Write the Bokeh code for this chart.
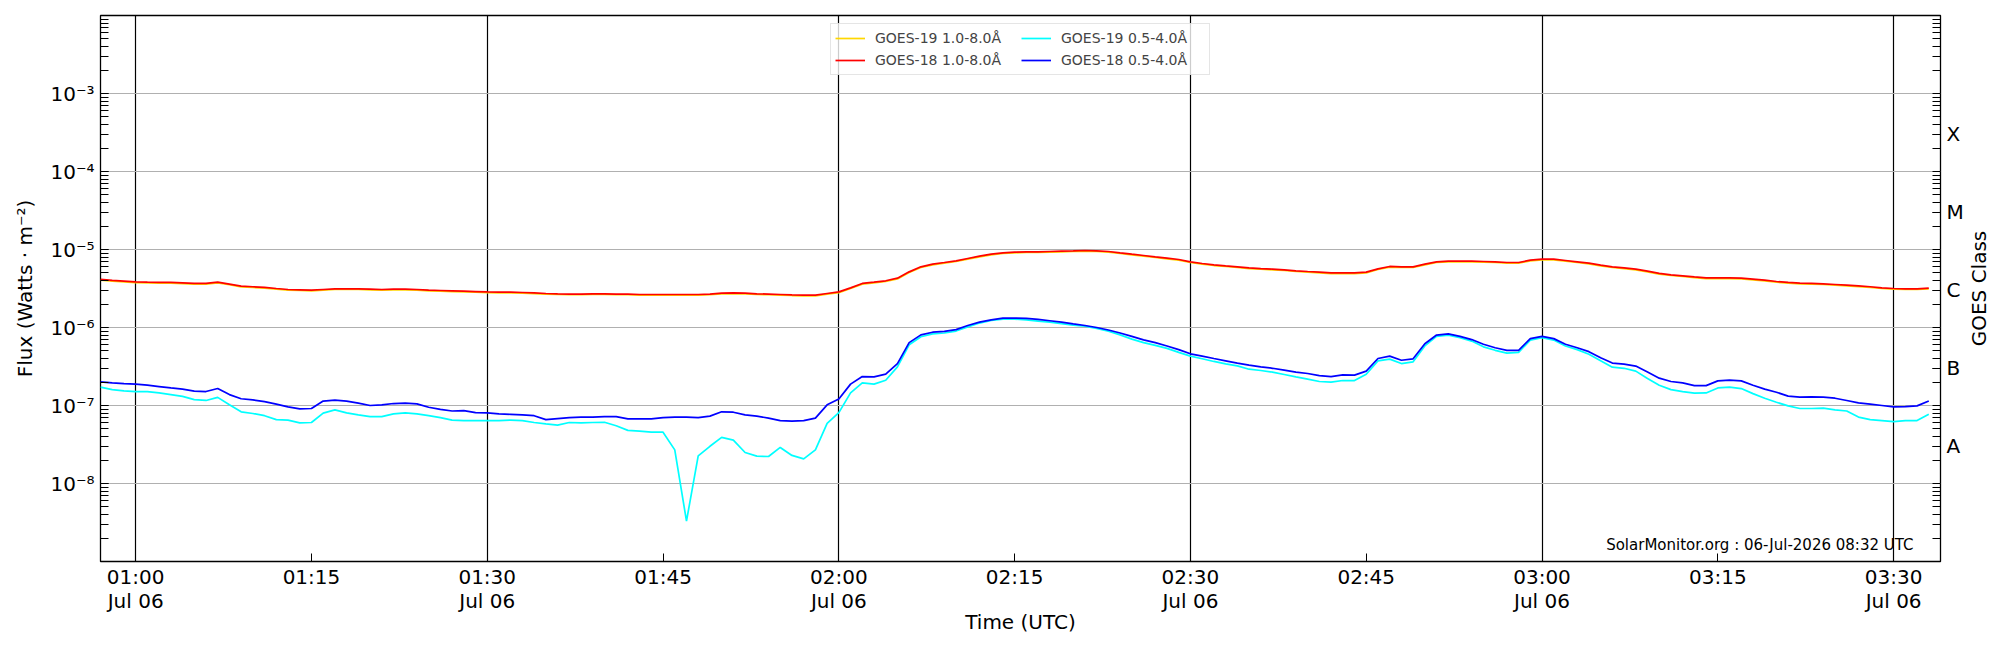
import math
import numpy as np
import pandas as pd
from bokeh.plotting import figure
from bokeh.layouts import row
from bokeh.models import (FixedTicker, LogAxis, Range1d, Legend, LegendItem,
                          Label, CustomJSTickFormatter)
from bokeh.embed import file_html
from bokeh.resources import INLINE

# ---------------- data (1-minute cadence, starting 00:57 UTC) ----------------
DATE = "2026-07-06"
START = "00:57"
X_END = "03:34"

# GOES-19 1.0-8.0 A, in units of 1e-6 W m^-2
goes19_long = [
    4.05, 3.93, 3.85, 3.77, 3.73, 3.70, 3.70, 3.66, 3.60, 3.60, 3.73, 3.53, 3.32,
    3.26, 3.19, 3.10, 3.01, 2.98, 2.95, 3.01, 3.07, 3.07, 3.07,
    3.04, 3.01, 3.04, 3.04, 3.01, 2.95, 2.92, 2.89, 2.86, 2.83,
    2.80, 2.78, 2.78, 2.75, 2.72, 2.68, 2.65, 2.63, 2.63, 2.65,
    2.65, 2.63, 2.63, 2.60, 2.60, 2.60, 2.60, 2.60, 2.60, 2.63,
    2.70, 2.72, 2.70, 2.65, 2.63, 2.60, 2.57, 2.55, 2.55, 2.68,
    2.80, 3.16, 3.60, 3.73, 3.89, 4.20, 5.07, 5.88, 6.36, 6.67,
    7.02, 7.52, 8.05, 8.54, 8.88, 9.06, 9.15, 9.15, 9.24, 9.33,
    9.42, 9.52, 9.42, 9.24, 8.88, 8.54, 8.21, 7.89, 7.59, 7.29,
    6.81, 6.49, 6.23, 6.05, 5.88, 5.70, 5.59, 5.49, 5.38, 5.22,
    5.12, 5.02, 4.92, 4.92, 4.92, 5.02, 5.54, 5.94, 5.88, 5.88,
    6.36, 6.81, 6.95, 6.95, 6.95, 6.88, 6.81, 6.67, 6.67, 7.15,
    7.37, 7.37, 7.09, 6.81, 6.55, 6.17, 5.88, 5.70, 5.49, 5.16,
    4.83, 4.64, 4.51, 4.37, 4.24, 4.24, 4.24, 4.20, 4.09, 3.96,
    3.81, 3.70, 3.63, 3.60, 3.56, 3.49, 3.42, 3.35, 3.26, 3.16,
    3.10, 3.07, 3.07, 3.13,
]

# GOES-18 1.0-8.0 A, in units of 1e-6 W m^-2
goes18_long = [
    4.13, 4.01, 3.93, 3.85, 3.81, 3.78, 3.78, 3.74, 3.67, 3.67, 3.81, 3.60, 3.39,
    3.33, 3.26, 3.16, 3.07, 3.04, 3.01, 3.07, 3.13, 3.13, 3.13,
    3.10, 3.07, 3.10, 3.10, 3.07, 3.01, 2.98, 2.95, 2.92, 2.89,
    2.86, 2.84, 2.84, 2.81, 2.78, 2.73, 2.70, 2.68, 2.68, 2.70,
    2.70, 2.68, 2.68, 2.65, 2.65, 2.65, 2.65, 2.65, 2.65, 2.68,
    2.76, 2.78, 2.76, 2.70, 2.68, 2.65, 2.62, 2.60, 2.60, 2.73,
    2.86, 3.22, 3.67, 3.81, 3.97, 4.29, 5.17, 6.00, 6.49, 6.81,
    7.16, 7.67, 8.21, 8.71, 9.06, 9.24, 9.34, 9.34, 9.43, 9.52,
    9.61, 9.71, 9.61, 9.43, 9.06, 8.71, 8.38, 8.05, 7.74, 7.44,
    6.95, 6.62, 6.36, 6.17, 6.00, 5.82, 5.70, 5.60, 5.49, 5.33,
    5.22, 5.12, 5.02, 5.02, 5.02, 5.12, 5.65, 6.06, 6.00, 6.00,
    6.49, 6.95, 7.09, 7.09, 7.09, 7.02, 6.95, 6.81, 6.81, 7.30,
    7.52, 7.52, 7.23, 6.95, 6.68, 6.30, 6.00, 5.82, 5.60, 5.27,
    4.93, 4.73, 4.60, 4.46, 4.33, 4.33, 4.33, 4.29, 4.17, 4.04,
    3.89, 3.78, 3.70, 3.67, 3.63, 3.56, 3.49, 3.42, 3.33, 3.22,
    3.16, 3.13, 3.13, 3.19,
]

# GOES-19 0.5-4.0 A, in units of 1e-7 W m^-2
goes19_short = [
    1.72, 1.60, 1.54, 1.51, 1.51, 1.45, 1.38, 1.31, 1.19, 1.16, 1.27, 1.02, 0.83,
    0.79, 0.74, 0.66, 0.65, 0.60, 0.605, 0.80, 0.88, 0.805, 0.76,
    0.72, 0.72, 0.78, 0.805, 0.78, 0.74, 0.70, 0.65, 0.64, 0.64,
    0.64, 0.64, 0.65, 0.64, 0.605, 0.58, 0.56, 0.605, 0.60, 0.605,
    0.61, 0.55, 0.48, 0.47, 0.455, 0.455, 0.27, 0.033, 0.226, 0.30,
    0.39, 0.36, 0.25, 0.224, 0.222, 0.29, 0.229, 0.207, 0.27, 0.59,
    0.81, 1.45, 1.95, 1.88, 2.11, 3.13, 6.0, 7.6, 8.3, 8.5,
    9.0, 10.2, 11.4, 12.3, 12.8, 12.8, 12.5, 12.1, 11.7, 11.2,
    10.7, 10.4, 9.7, 9.0, 8.05, 7.1, 6.4, 5.9, 5.4, 4.8,
    4.3, 3.97, 3.67, 3.42, 3.22, 2.92, 2.81, 2.68, 2.50, 2.33,
    2.18, 2.03, 1.99, 2.09, 2.09, 2.52, 3.74, 3.93, 3.45, 3.63,
    5.8, 7.7, 8.0, 7.4, 6.7, 5.65, 5.1, 4.7, 4.8, 6.9,
    7.4, 6.9, 5.8, 5.2, 4.55, 3.74, 3.1, 3.0, 2.76, 2.22,
    1.82, 1.60, 1.51, 1.44, 1.45, 1.68, 1.72, 1.65, 1.42, 1.24,
    1.10, 0.99, 0.915, 0.915, 0.924, 0.88, 0.85, 0.71, 0.66, 0.64,
    0.62, 0.64, 0.64, 0.77,
]

# GOES-18 0.5-4.0 A, in units of 1e-7 W m^-2
goes18_short = [
    2.01, 1.95, 1.91, 1.88, 1.82, 1.75, 1.68, 1.62, 1.53, 1.51, 1.65, 1.38, 1.22,
    1.18, 1.12, 1.04, 0.96, 0.906, 0.915, 1.14, 1.17, 1.14, 1.07,
    1.00, 1.02, 1.06, 1.07, 1.05, 0.95, 0.89, 0.85, 0.86, 0.81,
    0.805, 0.78, 0.77, 0.76, 0.74, 0.66, 0.68, 0.70, 0.71, 0.71,
    0.72, 0.72, 0.675, 0.675, 0.675, 0.70, 0.71, 0.71, 0.70, 0.73,
    0.83, 0.82, 0.76, 0.73, 0.69, 0.64, 0.63, 0.64, 0.69, 1.02,
    1.21, 1.88, 2.35, 2.33, 2.52, 3.45, 6.4, 8.05, 8.7, 8.9,
    9.4, 10.6, 11.7, 12.5, 13.2, 13.2, 13.1, 12.7, 12.2, 11.7,
    11.1, 10.6, 10.0, 9.3, 8.5, 7.7, 6.95, 6.4, 5.8, 5.2,
    4.6, 4.3, 4.0, 3.74, 3.5, 3.3, 3.13, 3.0, 2.84, 2.68,
    2.57, 2.42, 2.35, 2.47, 2.45, 2.76, 4.0, 4.3, 3.8, 3.97,
    6.2, 8.0, 8.3, 7.7, 7.0, 6.1, 5.5, 5.1, 5.1, 7.2,
    7.7, 7.2, 6.1, 5.5, 4.9, 4.1, 3.5, 3.4, 3.2, 2.68,
    2.24, 2.03, 1.95, 1.80, 1.80, 2.07, 2.11, 2.07, 1.82, 1.62,
    1.48, 1.32, 1.28, 1.29, 1.28, 1.24, 1.16, 1.08, 1.04, 1.00,
    0.96, 0.97, 0.99, 1.14,
]

series_labels = ["GOES-19 1.0-8.0Å", "GOES-18 1.0-8.0Å",
                 "GOES-19 0.5-4.0Å", "GOES-18 0.5-4.0Å"]
series_colors = ["gold", "red", "cyan", "blue"]

x_tick_times = ["01:00", "01:15", "01:30", "01:45", "02:00", "02:15",
                "02:30", "02:45", "03:00", "03:15", "03:30"]
vline_times = ["01:00", "01:30", "02:00", "02:30", "03:00", "03:30"]
y_major = [1e-8, 1e-7, 1e-6, 1e-5, 1e-4, 1e-3]
class_ticks = [3e-8, 3e-7, 3e-6, 3e-5, 3e-4]
class_labels = ["A", "B", "C", "M", "X"]
annotation = "SolarMonitor.org : 06-Jul-2026 08:32 UTC"

FONT = "DejaVu Sans"

# ---------------- helpers ----------------
def ts(hm):
    return pd.Timestamp(f"{DATE} {hm}")

def ms(hm):
    return ts(hm).value / 1e6

t0 = ts(START)
n = len(goes18_long)
times = t0 + pd.to_timedelta(np.arange(n), unit="min")

values = [np.array(goes19_long) * 1e-6, np.array(goes18_long) * 1e-6,
          np.array(goes19_short) * 1e-7, np.array(goes18_short) * 1e-7]

minor = [k * 10.0 ** e for e in range(-9, -2) for k in range(1, 10)]

# ---------------- layout sizes ----------------
BORDER_L, FRAME_W, BORDER_R = 100, 1840, 24
BORDER_T, FRAME_H, BORDER_B = 15, 546, 89
SIDE_W = 2000 - (BORDER_L + FRAME_W + BORDER_R)

# ---------------- figure ----------------
p = figure(x_axis_type="datetime", y_axis_type="log",
           x_range=Range1d(t0, ts(X_END)), y_range=Range1d(1e-9, 1e-2),
           frame_width=FRAME_W, frame_height=FRAME_H,
           min_border_left=BORDER_L, min_border_right=BORDER_R,
           min_border_top=BORDER_T, min_border_bottom=BORDER_B,
           output_backend="svg", toolbar_location=None,
           background_fill_color="white", border_fill_color="white")
p.outline_line_color = "black"
p.outline_line_width = 1.3

renderers = []
for vals, col in zip(values, series_colors):
    renderers.append(p.line(times, vals, line_color=col, line_width=1.7))

# grid
p.ygrid.ticker = FixedTicker(ticks=y_major)
p.ygrid.grid_line_color = "#b0b0b0"
p.ygrid.grid_line_width = 1
p.xgrid.ticker = FixedTicker(ticks=[ms(t) for t in vline_times])
p.xgrid.grid_line_color = "black"
p.xgrid.grid_line_width = 1.2
p.xgrid.grid_line_alpha = 1.0

# x axis
xa = p.xaxis[0]
xa.ticker = FixedTicker(ticks=[ms(t) for t in x_tick_times])
xa.formatter = CustomJSTickFormatter(code="""
const d = new Date(tick);
const months = ["Jan","Feb","Mar","Apr","May","Jun","Jul","Aug","Sep","Oct","Nov","Dec"];
const hh = String(d.getUTCHours()).padStart(2, "0");
const mm = String(d.getUTCMinutes()).padStart(2, "0");
if (d.getUTCMinutes() % 30 == 0) {
  return hh + ":" + mm + "\\n" + months[d.getUTCMonth()] + " " + String(d.getUTCDate()).padStart(2, "0");
}
return hh + ":" + mm;
""")
xa.axis_label = "Time (UTC)"

# left y axis
ya = p.yaxis[0]
ya.ticker = FixedTicker(ticks=y_major, minor_ticks=minor)
ya.formatter = CustomJSTickFormatter(code="""
const e = Math.round(Math.log10(tick));
const sup = {"-": "\u207b", "0": "\u2070", "1": "\u00b9", "2": "\u00b2", "3": "\u00b3",
             "4": "\u2074", "5": "\u2075", "6": "\u2076", "7": "\u2077", "8": "\u2078", "9": "\u2079"};
return "10" + String(e).split("").map(c => sup[c]).join("");
""")
ya.axis_label = "Flux (Watts · m⁻²)"

# right axis (GOES class)
ra = LogAxis(ticker=FixedTicker(ticks=class_ticks, minor_ticks=minor))
ra.formatter = CustomJSTickFormatter(
    args=dict(labels=class_labels),
    code="""
const e = Math.floor(Math.log10(tick) + 1e-9);
return labels[e + 8];
""")
p.add_layout(ra, "right")

for ax in [xa, ya, ra]:
    ax.axis_line_color = None
    ax.major_tick_in = 8
    ax.major_tick_out = 0
    ax.minor_tick_in = 8
    ax.minor_tick_out = 0
    ax.major_tick_line_color = "black"
    ax.minor_tick_line_color = "black"
    ax.major_tick_line_width = 1
    ax.minor_tick_line_width = 1
    ax.major_label_text_font = FONT
    ax.major_label_text_font_size = "20px"
    ax.major_label_text_color = "black"
    ax.major_label_standoff = 6
    ax.axis_label_text_font = FONT
    ax.axis_label_text_font_size = "20px"
    ax.axis_label_text_font_style = "normal"
    ax.axis_label_text_color = "black"
xa.minor_tick_in = 0
xa.major_label_standoff = 3
xa.major_label_text_line_height = 1.0
xa.axis_label_standoff = -6
ya.axis_label_standoff = 10

p.add_layout(Label(x=ms(X_END), y=1e-9, x_offset=-27, y_offset=17, text=annotation,
                   text_align="right", text_baseline="alphabetic",
                   text_font=FONT, text_font_size="15px", text_color="black"))

legend = Legend(items=[LegendItem(label=lab, renderers=[r])
                       for lab, r in zip(series_labels, renderers)],
                location="top_center", ncols=2,
                label_text_font=FONT, label_text_font_size="14px",
                glyph_width=30, glyph_height=20, label_height=20,
                label_standoff=10, label_width=144, spacing=2, padding=4, margin=8,
                border_line_color="#cccccc", border_line_width=1,
                background_fill_color="white", background_fill_alpha=0.8)
p.add_layout(legend)

# ---------------- side strip holding the right-axis title ----------------
# its frame is aligned vertically with the main plot's frame
side = figure(frame_width=SIDE_W, frame_height=FRAME_H,
              x_range=Range1d(0, 1), y_range=Range1d(0, 1),
              min_border_left=0, min_border_right=0,
              min_border_top=BORDER_T, min_border_bottom=BORDER_B,
              x_axis_location=None, y_axis_location=None,
              output_backend="svg", toolbar_location=None,
              background_fill_color="white", border_fill_color="white")
side.outline_line_color = None
side.grid.visible = False
side.add_layout(Label(x=0.36, y=0.5, text="GOES Class", angle=math.pi / 2,
                      text_align="center", text_baseline="middle",
                      text_font=FONT, text_font_size="20px", text_color="black"))

layout = row(p, side, spacing=0)

open("out.html", "w", encoding="utf-8").write(file_html(layout, INLINE))
